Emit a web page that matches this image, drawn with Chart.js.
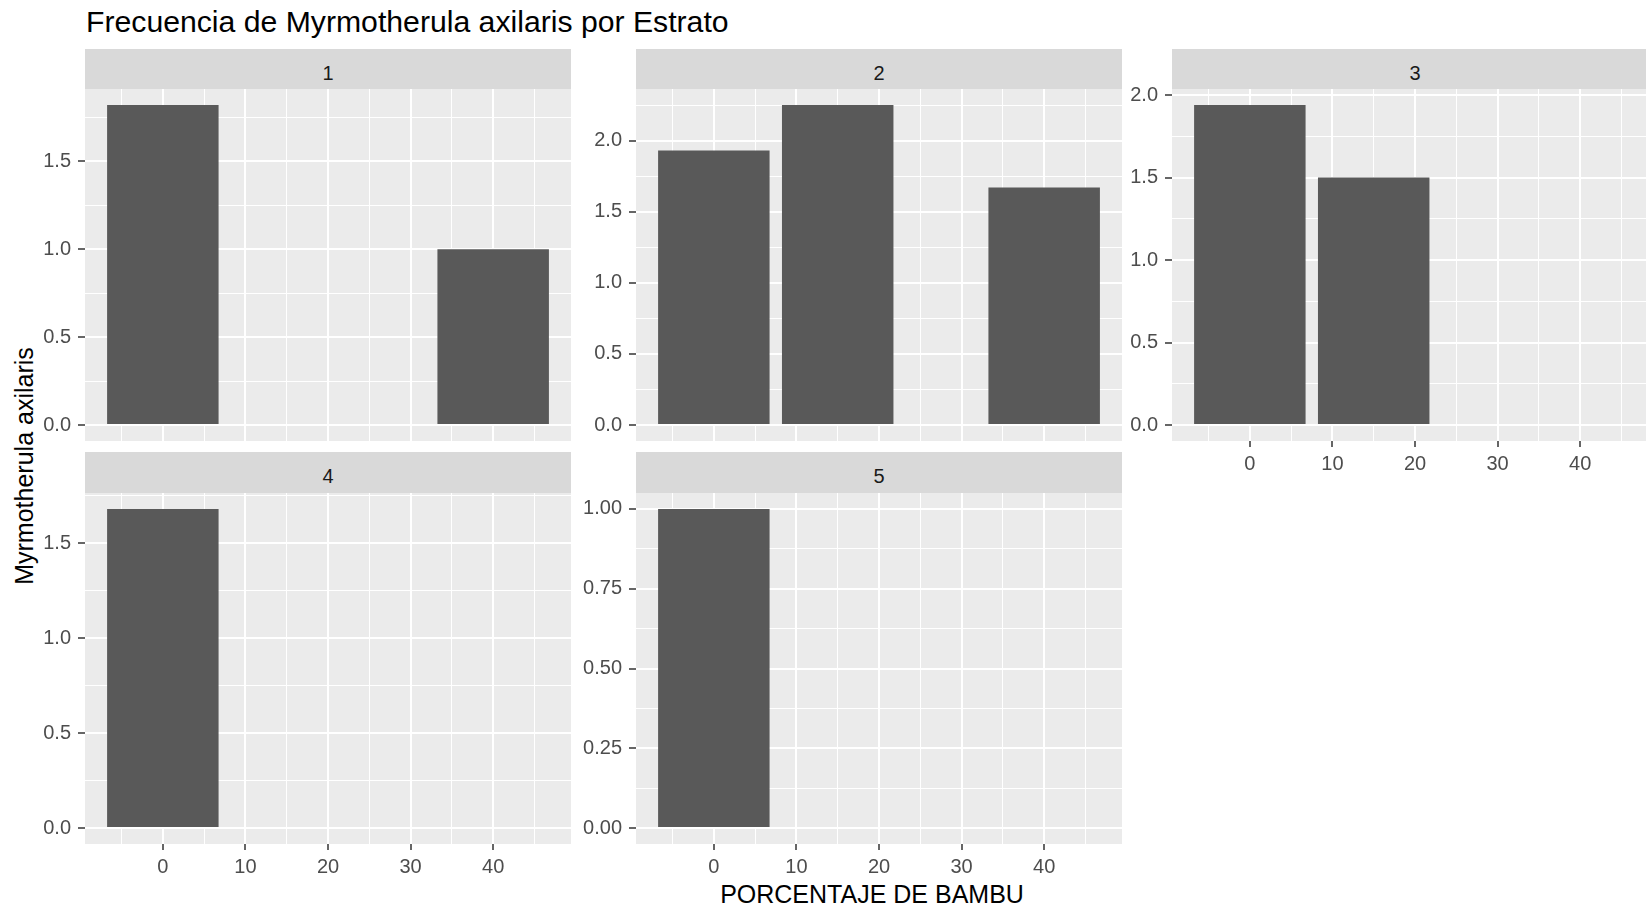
<!DOCTYPE html>
<html>
<head>
<meta charset="utf-8">
<script src="https://cdn.jsdelivr.net/npm/chart.js@4/dist/chart.umd.min.js"></script>
<style>
  body { margin: 0; background: #fff; }
  #fig { position: relative; width: 1646px; height: 911px; overflow: hidden; background: #fff;
         font-family: "Liberation Sans", Arial, sans-serif; }
  #fig canvas { position: absolute; }
  .strip { position: absolute; background: #D9D9D9; color: #1A1A1A; font-size: 20px;
           text-align: center; box-sizing: border-box; padding-top: 4px; }
  .txt { position: absolute; white-space: nowrap; color: #000; }
</style>
</head>
<body>
<div id="fig">
  <div class="txt" style="left:86px;top:7px;font-size:30.2px;line-height:30px;">Frecuencia de Myrmotherula axilaris por Estrato</div>
  <div class="txt" style="left:24px;top:466px;font-size:25px;line-height:25px;transform:translate(-50%,-50%) rotate(-90deg);">Myrmotherula axilaris</div>
  <div class="txt" style="left:872px;top:882px;font-size:25px;line-height:25px;transform:translateX(-50%);">PORCENTAJE DE BAMBU</div>
</div>
<script>
// Myrmotherula axilaris frequency by bamboo percentage, one panel per estrato
const estratos = ['1', '2', '3', '4', '5'];
const bambu_e1 = [0, 40];
const freq_e1 = [1.82, 1.0];
const bambu_e2 = [0, 15, 40];
const freq_e2 = [1.93, 2.25, 1.67];
const bambu_e3 = [0, 15];
const freq_e3 = [1.94, 1.5];
const bambu_e4 = [0];
const freq_e4 = [1.68];
const bambu_e5 = [0];
const freq_e5 = [1.0];
const xTicks = [0, 10, 20, 30, 40];
const yStep = [0.5, 0.5, 0.5, 0.5, 0.25];

const bambu = [bambu_e1, bambu_e2, bambu_e3, bambu_e4, bambu_e5];
const freq = [freq_e1, freq_e2, freq_e3, freq_e4, freq_e5];

// layout of the facet grid (pixels)
const colLeft = [85, 636, 1172];
const panelW = 486;
const rows = [
  { stripTop: 49, plotTop: 89, plotH: 352 },
  { stripTop: 452, plotTop: 493, plotH: 351 }
];
const yAxisW = 70, xAxisH = 38, padTop = 15;

// shared x scale like ggplot: bar width 0.9 * resolution, 5% expansion
const allX = [...new Set(bambu.flat())].sort((a, b) => a - b);
let res = Infinity;
for (let i = 1; i < allX.length; i++) res = Math.min(res, allX[i] - allX[i - 1]);
const barW = 0.9 * res;
const xLo = allX[0] - barW / 2, xHi = allX[allX.length - 1] + barW / 2;
const xMin = xLo - 0.05 * (xHi - xLo), xMax = xHi + 0.05 * (xHi - xLo);
const xMinor = (xTicks[1] - xTicks[0]) / 2;

function stepTicks(lo, hi, step) {
  const out = [];
  for (let k = Math.ceil(lo / step - 1e-9); k * step <= hi + 1e-9; k++) out.push({ value: +(k * step).toFixed(6) });
  return out;
}

const panelBg = {
  id: 'panelBg',
  beforeDraw(chart) {
    const { ctx, chartArea: a } = chart;
    ctx.save();
    ctx.fillStyle = '#EBEBEB';
    ctx.fillRect(a.left, a.top, a.width, a.height);
    ctx.restore();
  }
};

const fig = document.getElementById('fig');
const font = { family: '"Liberation Sans", Arial, sans-serif', size: 20 };

estratos.forEach((name, i) => {
  const col = i % 3, row = rows[Math.floor(i / 3)];
  const showX = i >= 2; // bottom panel of each column
  const L = colLeft[col];
  const stripH = row.plotTop - row.stripTop;

  const strip = document.createElement('div');
  strip.className = 'strip';
  strip.style.cssText = `left:${L}px;top:${row.stripTop}px;width:${panelW}px;height:${stripH}px;line-height:${stripH}px;`;
  strip.textContent = name;
  fig.appendChild(strip);

  const cv = document.createElement('canvas');
  cv.width = yAxisW + panelW;
  cv.height = padTop + row.plotH + (showX ? xAxisH : 0);
  cv.style.left = (L - yAxisW) + 'px';
  cv.style.top = (row.plotTop - padTop) + 'px';
  fig.appendChild(cv);

  const maxV = Math.max(...freq[i]);
  const step = yStep[i];
  const dec = (String(step).split('.')[1] || '').length;
  const isMajorY = v => Math.abs(v / step - Math.round(v / step)) < 1e-6;
  const isMajorX = v => xTicks.includes(v);

  new Chart(cv, {
    type: 'bar',
    data: {
      datasets: [{
        data: bambu[i].map((x, k) => ({ x, y: freq[i][k] })),
        backgroundColor: '#595959',
        borderWidth: 0,
        // ruler spacing is one minor tick, so this gives a bar barW units wide
        categoryPercentage: barW / xMinor,
        barPercentage: 1
      }]
    },
    options: {
      responsive: false,
      animation: false,
      devicePixelRatio: 1,
      layout: { padding: { top: padTop, left: 0, right: 0, bottom: 0 } },
      plugins: { legend: { display: false }, tooltip: { enabled: false } },
      scales: {
        x: {
          type: 'linear',
          min: xMin, max: xMax,
          offset: false,
          afterBuildTicks: s => { s.ticks = stepTicks(xMin, xMax, xMinor); },
          afterFit: s => { s.height = showX ? xAxisH : 0; s.paddingLeft = 0; s.paddingRight = 0; },
          border: { display: false },
          grid: {
            offset: false,
            color: '#FFFFFF',
            lineWidth: c => (isMajorX(c.tick.value) ? 2 : 1),
            drawTicks: showX,
            tickLength: 6,
            tickWidth: 1.5,
            tickColor: c => (isMajorX(c.tick.value) ? '#333333' : 'rgba(0,0,0,0)')
          },
          ticks: {
            display: showX,
            autoSkip: false,
            maxRotation: 0,
            padding: 5,
            color: '#4D4D4D',
            font,
            callback: v => (isMajorX(v) ? String(v) : '')
          }
        },
        y: {
          type: 'linear',
          min: -0.05 * maxV, max: 1.05 * maxV,
          afterBuildTicks: s => { s.ticks = stepTicks(0, 1.05 * maxV, step / 2); },
          afterFit: s => { s.width = yAxisW; s.paddingTop = 0; s.paddingBottom = 0; },
          border: { display: false },
          grid: {
            color: '#FFFFFF',
            lineWidth: c => (isMajorY(c.tick.value) ? 2 : 1),
            tickLength: 7,
            tickWidth: 1.5,
            tickColor: c => (isMajorY(c.tick.value) ? '#333333' : 'rgba(0,0,0,0)')
          },
          ticks: {
            autoSkip: false,
            padding: 7,
            color: '#4D4D4D',
            font,
            callback: v => (isMajorY(v) ? v.toFixed(dec) : '')
          }
        }
      }
    },
    plugins: [panelBg]
  });
});
</script>
</body>
</html>
